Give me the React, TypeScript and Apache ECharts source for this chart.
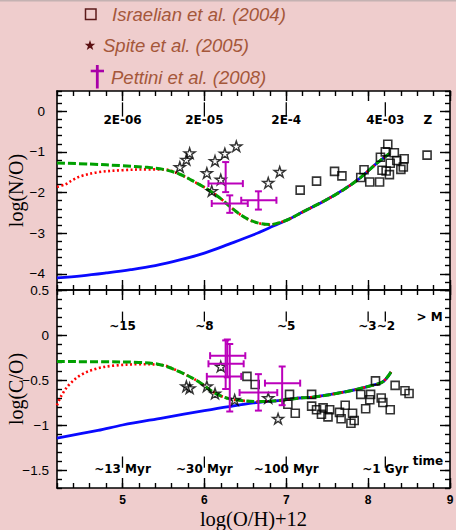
import React, { useEffect, useRef } from "react";
import * as echarts from "echarts";

// ---- axes -------------------------------------------------------------
const X_MIN = 4.2;
const X_MAX = 9;
const X_MAJOR = [5, 6, 7, 8, 9];

const NO_MIN = -4.4;
const NO_MAX = 0.5;
const NO_MAJOR = [-4, -3, -2, -1, 0];

const CO_MIN = -1.7;
const CO_MAX = 0.5;
const CO_MAJOR = [-1.5, -1, -0.5, 0, 0.5];

// ---- model tracks, log(N/O) vs log(O/H)+12 -----------------------------
const noGreenHead = [[4.2, -1.27], [4.6, -1.3], [5.0, -1.34], [5.3, -1.38]];
const noRedHead = [[4.2, -1.86], [4.3, -1.8], [4.4, -1.68], [4.5, -1.59], [4.7, -1.5], [5.0, -1.45], [5.3, -1.43]];
const noDip = [[5.5, -1.43], [5.7, -1.55], [5.9, -1.76], [6.07, -1.96], [6.2, -2.15], [6.31, -2.34], [6.45, -2.56], [6.58, -2.7], [6.7, -2.77], [6.8, -2.79], [6.92, -2.74]];
const noBlueHead = [[4.2, -4.1], [4.5, -4.05], [4.8, -3.98], [5.1, -3.9], [5.4, -3.8], [5.7, -3.66], [6.0, -3.49], [6.3, -3.27], [6.6, -3.04], [6.85, -2.82]];
const noTail = [[7.05, -2.64], [7.2, -2.48], [7.48, -2.19], [7.7, -1.93], [7.89, -1.66], [8.1, -1.29], [8.26, -1.04]];

// ---- model tracks, log(C/O) vs log(O/H)+12 -----------------------------
const coGreenHead = [[4.2, -0.295], [4.8, -0.298], [5.2, -0.305]];
const coRedHead = [[4.2, -0.78], [4.25, -0.68], [4.35, -0.55], [4.5, -0.44], [4.7, -0.37], [4.9, -0.34], [5.2, -0.325]];
const coDrop = [[5.46, -0.33], [5.7, -0.41], [5.95, -0.53], [6.1, -0.63], [6.27, -0.7], [6.47, -0.73], [6.68, -0.74]];
const coBlueHead = [[4.2, -1.145], [4.7, -1.06], [5.0, -1.0], [5.5, -0.92], [6.0, -0.84], [6.3, -0.795], [6.6, -0.755]];
const coTail = [[6.9, -0.73], [7.16, -0.7], [7.33, -0.69], [7.73, -0.63], [8.05, -0.56], [8.18, -0.52], [8.28, -0.41]];

// ---- observations ------------------------------------------------------
const israelianNO = [
  [7.17, -1.94], [7.37, -1.72], [7.59, -1.48], [7.68, -1.59], [7.91, -1.63], [7.95, -1.44], [8.02, -1.74],
  [8.14, -1.74], [8.15, -1.13], [8.24, -0.81], [8.21, -1.0], [8.32, -1.02], [8.27, -1.28], [8.17, -1.45],
  [8.22, -1.47], [8.26, -1.56], [8.35, -1.21], [8.44, -1.17], [8.4, -1.43], [8.43, -1.37], [8.72, -1.08],
];
const spiteNO = [
  [5.7, -1.37], [5.78, -1.19], [5.82, -1.03], [6.03, -1.52], [6.13, -1.22], [6.25, -1.04], [6.39, -0.86],
  [6.2, -1.68], [6.09, -1.96], [6.78, -1.76], [6.92, -1.49],
];
// [x, xLow, xHigh, y, yLow, yHigh]
const pettiniNO = [
  [6.26, 6.05, 6.47, -1.78, -1.99, -1.25],
  [6.31, 6.09, 6.53, -2.27, -2.5, -2.07],
  [6.66, 6.45, 6.88, -2.19, -2.42, -1.97],
];

const israelianCO = [
  [6.52, -0.46], [6.62, -0.55], [7.04, -0.66], [7.02, -0.77], [7.11, -0.87], [7.31, -0.66], [7.31, -0.79],
  [7.37, -0.83], [7.43, -0.88], [7.45, -0.81], [7.53, -0.83], [7.51, -0.91], [7.65, -0.86], [7.67, -0.93],
  [7.72, -0.78], [7.81, -0.87], [7.83, -0.95], [7.79, -0.98], [7.91, -0.66], [7.97, -0.82], [8.02, -0.72],
  [8.03, -0.66], [8.09, -0.51], [8.16, -0.7], [8.18, -0.75], [8.27, -0.83], [8.33, -0.56], [8.45, -0.62],
  [8.5, -0.65],
];
const spiteCO = [
  [5.78, -0.57], [5.82, -0.59], [6.03, -0.57], [6.2, -0.35], [6.13, -0.65], [6.37, -0.72], [6.78, -0.7], [6.9, -0.93],
];
const pettiniCO = [
  [6.28, 6.07, 6.5, -0.23, -0.47, -0.05],
  [6.26, 6.05, 6.48, -0.32, -0.6, -0.06],
  [6.31, 6.03, 6.45, -0.46, -0.85, -0.1],
  [6.66, 6.43, 6.89, -0.64, -0.84, -0.435],
  [6.95, 6.74, 7.17, -0.535, -0.78, -0.35],
];

// ---- secondary scales written inside the panels ------------------------
// metallicity Z
const metalTickX = [5, 6, 7, 8.21];
const metalLabelX = [5, 6, 7, 8.21, 8.73];
const metalLabels = ["2E-06", "2E-05", "2E-4", "4E-03", "Z"];
// stellar mass
const massTickX = [5, 6, 7, 8, 8.21];
const massLabelX = [5, 6, 7, 8.105];
const massLabels = ["~15", "~8", "~5", "~3~2"];
const massTitleX = [8.75];
const massTitle = ["> M"];
// elapsed time
const timeTickX = [5, 6, 7, 8.21];
const timeLabelX = [5, 6, 7, 8.21];
const timeLabels = ["~13 Myr", "~30 Myr", "~100 Myr", "~1 Gyr"];
const timeTitleX = [8.73];
const timeTitle = ["time"];

// ---- styling -----------------------------------------------------------
const BG = "#efcdcd";
const PETTINI = "#bb00bb";
const LEGEND_TEXT = "#a5573a";
const STAR_PATH = "path://M0,-100L22,-31L95,-31L36,12L59,81L0,38L-59,81L-36,12L-95,-31L-22,-31Z";
const lineAxis = { color: "#000", width: 1.6 };
const tickLine = { color: "#000", width: 1.4 };
const minus = (v: number) => String(v).replace("-", "\u2212");

function xAxesFor(gridIndex: number, labelled: boolean) {
  const base = { type: "value", gridIndex, min: X_MIN, max: X_MAX, splitLine: { show: false }, nameMoveOverlap: false };
  return ["bottom", "top"].flatMap((position) => {
    const withText = labelled && position === "bottom";
    return [
      {
        ...base, position, interval: 0.2,
        axisLine: { show: true, onZero: false, lineStyle: lineAxis },
        axisTick: { show: true, inside: true, length: 5, lineStyle: tickLine },
        axisLabel: { show: false },
      },
      {
        ...base, position,
        axisLine: { show: false, onZero: false },
        axisTick: { show: true, inside: true, length: 10, customValues: X_MAJOR, lineStyle: tickLine },
        axisLabel: withText
          ? { show: true, customValues: X_MAJOR, margin: 5, color: "#000", fontFamily: "Liberation Sans", fontWeight: "bold", fontSize: 12, lineHeight: 13 }
          : { show: false },
        ...(withText
          ? {
              name: "log(O/H)+12", nameLocation: "middle", nameGap: 20,
              nameTextStyle: { fontFamily: "Liberation Serif", fontSize: 20.5, color: "#000", lineHeight: 21 },
            }
          : {}),
      },
    ];
  });
}

function yAxesFor(gridIndex: number, min: number, max: number, step: number, major: number[], title: string, margin: number) {
  const base = { type: "value", gridIndex, min, max, splitLine: { show: false }, nameMoveOverlap: false };
  return ["left", "right"].flatMap((position) => {
    const withText = position === "left";
    return [
      {
        ...base, position, interval: step,
        axisLine: { show: true, onZero: false, lineStyle: lineAxis },
        axisTick: { show: true, inside: true, length: 5, lineStyle: tickLine },
        axisLabel: { show: false },
      },
      {
        ...base, position,
        axisLine: { show: false, onZero: false },
        axisTick: { show: true, inside: true, length: 10, customValues: major, lineStyle: tickLine },
        axisLabel: withText
          ? { show: true, customValues: major, margin, color: "#000", fontFamily: "Liberation Sans", fontSize: 13.5, formatter: minus }
          : { show: false },
        ...(withText
          ? {
              name: title, nameLocation: "middle", nameGap: 31,
              nameTextStyle: { fontFamily: "Liberation Serif", fontSize: 20, color: "#000" },
            }
          : {}),
      },
    ];
  });
}

function modelLines(g: number, blue: number[][], red: number[][], green: number[][]) {
  const common = { type: "line", xAxisIndex: g * 4, yAxisIndex: g * 4, showSymbol: false, smooth: 0.35, silent: true };
  return [
    { ...common, name: "blue", data: blue, lineStyle: { color: "#0a0aff", width: 2.8 }, z: 2 },
    { ...common, name: "red", data: red, lineStyle: { color: "#ff0000", width: 2.6, type: [2, 2.5] }, z: 3 },
    { ...common, name: "green", data: green, lineStyle: { color: "#00a000", width: 3, type: [8, 3] }, z: 4 },
  ];
}

function points(g: number, squares: number[][], stars: number[][]) {
  const common = { type: "scatter", xAxisIndex: g * 4, yAxisIndex: g * 4, silent: true, z: 6 };
  return [
    {
      ...common, name: "Israelian et al. (2004)", data: squares, symbol: "rect", symbolSize: 8,
      itemStyle: { color: "rgba(0,0,0,0)", borderColor: "#000", borderWidth: 1.6 },
    },
    {
      ...common, name: "Spite et al. (2005)", data: stars, symbol: STAR_PATH, symbolSize: 11, symbolKeepAspect: true,
      itemStyle: { color: "rgba(0,0,0,0)", borderColor: "#000", borderWidth: 1.4 },
    },
  ];
}

function errorBars(g: number, rows: number[][]) {
  return {
    type: "custom", name: "Pettini et al. (2008)", xAxisIndex: g * 4, yAxisIndex: g * 4, silent: true, z: 7,
    data: rows, encode: { x: [0, 1, 2], y: [3, 4, 5] },
    renderItem: (_params: any, api: any) => {
      const x = api.value(0), xlo = api.value(1), xhi = api.value(2);
      const y = api.value(3), ylo = api.value(4), yhi = api.value(5);
      const L = api.coord([xlo, y]), R = api.coord([xhi, y]);
      const B = api.coord([x, ylo]), T = api.coord([x, yhi]);
      const c = 3.5;
      const style = { stroke: PETTINI, lineWidth: 2, fill: "none" };
      const seg = (x1: number, y1: number, x2: number, y2: number) => ({ type: "line", shape: { x1, y1, x2, y2 }, style });
      return {
        type: "group",
        children: [
          seg(L[0], L[1], R[0], R[1]),
          seg(B[0], B[1], T[0], T[1]),
          seg(L[0], L[1] - c, L[0], L[1] + c),
          seg(R[0], R[1] - c, R[0], R[1] + c),
          seg(B[0] - c, B[1], B[0] + c, B[1]),
          seg(T[0] - c, T[1], T[0] + c, T[1]),
        ],
      };
    },
  };
}

// short vertical marks placed at an x value, spanning yTop..yBot in data units
function scaleTicks(g: number, xs: number[], yTop: number, yBot: number) {
  return {
    type: "custom", xAxisIndex: g * 4, yAxisIndex: g * 4, silent: true, z: 5,
    data: xs.map((x) => [x, yTop, yBot]), encode: { x: 0, y: [1, 2] },
    renderItem: (_params: any, api: any) => {
      const a = api.coord([api.value(0), api.value(1)]);
      const b = api.coord([api.value(0), api.value(2)]);
      return { type: "line", shape: { x1: a[0], y1: a[1], x2: b[0], y2: b[1] }, style: { stroke: "#000", lineWidth: 1.3 } };
    },
  };
}

function scaleLabels(g: number, xs: number[], labels: string[], yText: number) {
  return {
    type: "custom", xAxisIndex: g * 4, yAxisIndex: g * 4, silent: true, z: 5,
    data: xs.map((x) => [x, yText]), encode: { x: 0, y: 1 },
    renderItem: (params: any, api: any) => {
      const p = api.coord([api.value(0), api.value(1)]);
      return {
        type: "text", x: p[0], y: p[1],
        style: {
          text: labels[params.dataIndex], fill: "#000", font: 'bold 12px "DejaVu Sans"',
          textAlign: "center", textVerticalAlign: "middle", align: "center", verticalAlign: "middle",
        },
      };
    },
  };
}

function starPoints(cx: number, cy: number, r: number) {
  const pts: number[][] = [];
  for (let k = 0; k < 10; k++) {
    const a = (-90 + k * 36) * (Math.PI / 180);
    const rr = k % 2 === 0 ? r : r * 0.4;
    pts.push([cx + rr * Math.cos(a), cy + rr * Math.sin(a)]);
  }
  return pts;
}

const legendFont = 'italic 18.5px "Liberation Sans"';

const option: any = {
  animation: false,
  backgroundColor: BG,
  grid: [
    { left: 57, top: 91, width: 393, height: 199, show: true, backgroundColor: "#fff", borderWidth: 0, outerBoundsMode: "none", containLabel: false },
    { left: 57, top: 290, width: 393, height: 198, show: true, backgroundColor: "#fff", borderWidth: 0, outerBoundsMode: "none", containLabel: false },
  ],
  xAxis: [...xAxesFor(0, false), ...xAxesFor(1, true)],
  yAxis: [
    ...yAxesFor(0, NO_MIN, NO_MAX, 0.2, NO_MAJOR, "log(N/O)", 12),
    ...yAxesFor(1, CO_MIN, CO_MAX, 0.1, CO_MAJOR, "log(C/O)", 8),
  ],
  graphic: [
    { type: "rect", shape: { x: 0, y: 0, width: 456, height: 1.5 }, style: { fill: "#c4b2b2" } },
    { type: "rect", shape: { x: 85.5, y: 9, width: 10.5, height: 10.5 }, style: { fill: "none", stroke: "#5c1a1a", lineWidth: 1.5 } },
    { type: "text", x: 112, y: 14, style: { text: "Israelian et al. (2004)", font: legendFont, fill: LEGEND_TEXT, textVerticalAlign: "middle", verticalAlign: "middle" } },
    { type: "polygon", shape: { points: starPoints(90, 45.5, 5.5) }, style: { fill: "#5a0f12" } },
    { type: "text", x: 103, y: 45, style: { text: "Spite et al. (2005)", font: legendFont, fill: LEGEND_TEXT, textVerticalAlign: "middle", verticalAlign: "middle" } },
    { type: "line", shape: { x1: 97.3, y1: 65, x2: 97.3, y2: 88.5 }, style: { stroke: "#a800a8", lineWidth: 2.8 } },
    { type: "line", shape: { x1: 90.7, y1: 71, x2: 104, y2: 71 }, style: { stroke: "#a800a8", lineWidth: 2.6 } },
    { type: "text", x: 111, y: 77, style: { text: "Pettini et al. (2008)", font: legendFont, fill: LEGEND_TEXT, textVerticalAlign: "middle", verticalAlign: "middle" } },
  ],
  series: [
    ...modelLines(0, [...noBlueHead, ...noTail], [...noRedHead, ...noDip, ...noTail], [...noGreenHead, ...noDip, ...noTail]),
    ...modelLines(1, [...coBlueHead, ...coTail], [...coRedHead, ...coDrop, ...coTail], [...coGreenHead, ...coDrop, ...coTail]),
    ...points(0, israelianNO, spiteNO),
    ...points(1, israelianCO, spiteCO),
    errorBars(0, pettiniNO),
    errorBars(1, pettiniCO),
    scaleTicks(0, metalTickX, 0.22, -0.13),
    scaleLabels(0, metalLabelX, metalLabels, -0.21),
    scaleTicks(1, massTickX, 0.26, 0.15),
    scaleLabels(1, massLabelX, massLabels, 0.1),
    scaleLabels(1, massTitleX, massTitle, 0.2),
    scaleTicks(1, timeTickX, -1.35, -1.475),
    scaleLabels(1, timeLabelX, timeLabels, -1.49),
    scaleLabels(1, timeTitleX, timeTitle, -1.405),
  ],
};

export default function App() {
  const ref = useRef<HTMLDivElement>(null);
  useEffect(() => {
    const chart = echarts.init(ref.current!, undefined, { renderer: "svg" });
    chart.setOption(option);
    return () => chart.dispose();
  }, []);
  return <div ref={ref} style={{ position: "fixed", left: 0, top: 0, width: 456, height: 530 }} />;
}
